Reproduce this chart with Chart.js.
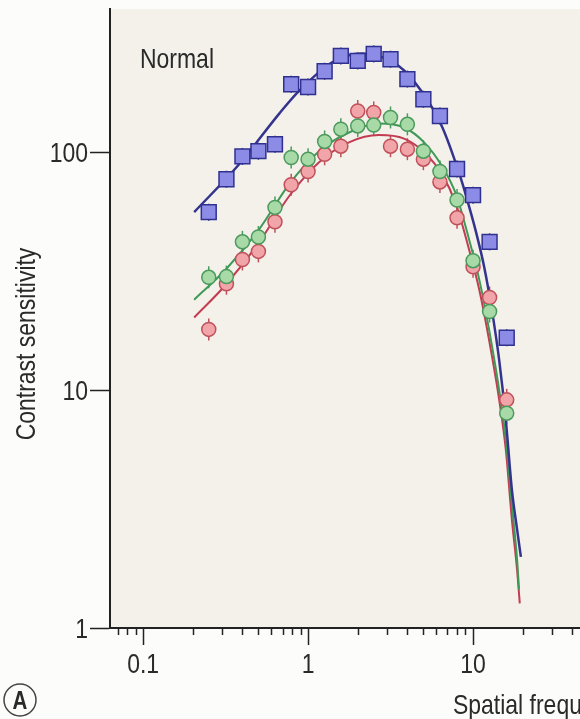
<!DOCTYPE html>
<html>
<head>
<meta charset="utf-8">
<script src="https://cdn.jsdelivr.net/npm/chart.js@4.4.1/dist/chart.umd.min.js"></script>
<style>
  html, body { margin: 0; padding: 0; background: #fcfcfa; overflow: hidden; }
  #wrap { width: 580px; height: 719px; }
</style>
</head>
<body>
<div id="wrap"><canvas id="csf" width="580" height="719"></canvas></div>
<script>
// spatial frequencies of the measured points (c/deg)
const freqs = [0.25, 0.32, 0.4, 0.5, 0.63, 0.79, 1, 1.26, 1.58, 2, 2.5, 3.16, 4, 5, 6.3, 8, 10, 12.6, 16];

// measured contrast sensitivity
const blueSens  = [56, 77, 96, 101, 108, 193, 188, 219, 254, 242, 259, 246, 203, 167, 142, 85, 66, 42, 16.6];
const greenSens = [29.8, 30, 42, 44, 58.6, 95, 93.5, 111, 125, 129, 130, 140, 131, 101, 83, 63, 35, 21.4, 8.0];
const redSens   = [18, 28, 35.4, 38.3, 51, 73, 83, 98, 106, 149, 147, 106, 103, 93.5, 75, 53, 33, 24.5, 9.1];

// fitted curves
const blueFitX  = [0.204, 0.382, 0.667, 0.882, 1.4, 2.12, 3.56, 4.91, 6.49, 8.22, 9.2, 10.4, 11.7, 13.0, 14.4, 15.8, 17.2, 18.5, 19.5];
const blueFitY  = [56, 89, 145, 181, 239, 260, 230, 179, 128, 82, 63.4, 46.5, 32.8, 21.8, 13.4, 7.5, 3.81, 2.59, 1.99];
const greenFitX = [0.204, 0.318, 0.505, 0.767, 1.166, 1.77, 2.69, 3.82, 5.05, 6.49, 7.89, 9.46, 10.9, 12.5, 14.4, 15.8, 17.2, 18.5, 19.0];
const greenFitY = [24, 32.2, 47.4, 73.3, 101, 121, 132, 127, 110, 87.3, 66.5, 43, 29.2, 18, 10, 6.19, 3.3, 1.93, 1.45];
const redFitX   = [0.204, 0.318, 0.505, 0.767, 1.166, 1.77, 2.69, 3.82, 5.05, 6.49, 7.89, 9.46, 10.9, 12.5, 14.4, 15.8, 17.2, 18.5, 19.2];
const redFitY   = [20.2, 27.8, 41.8, 65.3, 90.8, 110, 118, 114, 100, 80.7, 60.4, 39, 26.5, 16.3, 9.12, 5.62, 2.85, 1.75, 1.27];

const xTicks = [0.1, 1, 10];
const xTickLabels = ['0.1', '1', '10'];
const xMinorTicks = [0.07, 0.08, 0.09, 0.2, 0.3, 0.4, 0.5, 0.6, 0.7, 0.8, 0.9, 2, 3, 4, 5, 6, 7, 8, 9, 20, 30, 40];
const yTicks = [1, 10, 100];
const yTickLabels = ['1', '10', '100'];

const xTitle = 'Spatial frequency (cycles/degree)';
const yTitle = 'Contrast sensitivity';
const panelNote = 'Normal';
const panelLetter = 'A';

const family = '"Liberation Sans", Arial, sans-serif';
const fsize = 28;
const squeeze = 0.82;   // the figure uses a condensed face
const ink = '#222';
const textInk = '#2a2a2a';

const pts = (xs, ys) => xs.map((x, i) => ({ x, y: ys[i] }));

function markers(label, ys, style, radius, fill, edge, order) {
  return {
    label, data: pts(freqs, ys), showLine: false, order,
    pointStyle: style, pointRadius: radius, pointBackgroundColor: fill,
    pointBorderColor: edge, pointBorderWidth: 1.5, borderColor: edge, whisker: true
  };
}
function fit(label, xs, ys, color, width) {
  return {
    label, data: pts(xs, ys), showLine: true, order: 5,
    borderColor: color, borderWidth: width, pointRadius: 0,
    cubicInterpolationMode: 'monotone', fill: false
  };
}

// condensed text: squeeze horizontally around the anchor
function squeezedText(ctx, str, x, y, align, font) {
  ctx.save();
  ctx.font = font;
  ctx.textAlign = align;
  ctx.translate(x, y);
  ctx.scale(squeeze, 1);
  ctx.fillText(str, 0, 0);
  ctx.restore();
}

const plotBg = {
  id: 'plotBg',
  beforeDraw(chart) {
    const { ctx, chartArea: a } = chart;
    ctx.save();
    ctx.fillStyle = '#f3f1ea';
    ctx.fillRect(a.left, a.top, a.right - a.left, a.bottom - a.top);
    ctx.restore();
  }
};

// little error whiskers through each marker
const whiskers = {
  id: 'whiskers',
  beforeDatasetsDraw(chart) {
    const ctx = chart.ctx;
    chart.data.datasets.forEach((ds, i) => {
      if (!ds.whisker) return;
      const len = ds.pointRadius + (ds.pointStyle === 'rect' ? -2 : 4);
      ctx.save();
      ctx.strokeStyle = ds.borderColor;
      ctx.lineWidth = 1.5;
      chart.getDatasetMeta(i).data.forEach(p => {
        ctx.beginPath();
        ctx.moveTo(p.x, p.y - len);
        ctx.lineTo(p.x, p.y + len);
        ctx.stroke();
      });
      ctx.restore();
    });
  }
};

const decor = {
  id: 'decor',
  afterDraw(chart) {
    const { ctx, scales } = chart;
    const font = fsize + 'px ' + family;
    ctx.save();
    // minor ticks on the x axis
    ctx.strokeStyle = ink;
    ctx.lineWidth = 1.5;
    const y0 = scales.x.top;
    xMinorTicks.forEach(v => {
      const x = Math.round(scales.x.getPixelForValue(v)) + 0.5;
      if (x > chart.chartArea.right) return;
      ctx.beginPath();
      ctx.moveTo(x, y0);
      ctx.lineTo(x, y0 + 7);
      ctx.stroke();
    });

    ctx.fillStyle = textInk;
    ctx.textBaseline = 'alphabetic';
    // tick labels
    xTicks.forEach((v, i) => {
      squeezedText(ctx, xTickLabels[i], scales.x.getPixelForValue(v), 673, 'center', font);
    });
    yTicks.forEach((v, i) => {
      squeezedText(ctx, yTickLabels[i], 88, scales.y.getPixelForValue(v) + 10, 'right', font);
    });

    squeezedText(ctx, panelNote, 140, 68, 'left', font);
    squeezedText(ctx, xTitle, 453, 714, 'left', font);

    ctx.save();
    ctx.translate(35, 344);
    ctx.rotate(-Math.PI / 2);
    squeezedText(ctx, yTitle, 0, 0, 'center', font);
    ctx.restore();

    ctx.beginPath();
    ctx.arc(20, 700, 16, 0, Math.PI * 2);
    ctx.lineWidth = 1.5;
    ctx.strokeStyle = '#444';
    ctx.stroke();
    squeezedText(ctx, panelLetter, 20, 709, 'center', 'bold 25px ' + family);
    ctx.restore();
  }
};

function noPad(s) {
  s.paddingTop = 0; s.paddingBottom = 0; s.paddingLeft = 0; s.paddingRight = 0;
}

new Chart(document.getElementById('csf'), {
  type: 'scatter',
  data: {
    datasets: [
      markers('Blue', blueSens, 'rect', 10.5, '#8c8ce6', '#303090', 0),
      markers('Green', greenSens, 'circle', 7, '#a8daa8', '#4c9a5c', 0),
      markers('Red', redSens, 'circle', 7, '#f1a5a9', '#c0505a', 1),
      fit('Blue fit', blueFitX, blueFitY, '#34348e', 2.5),
      fit('Green fit', greenFitX, greenFitY, '#3e9a56', 2),
      fit('Red fit', redFitX, redFitY, '#c23c52', 2)
    ]
  },
  options: {
    responsive: false,
    animation: false,
    devicePixelRatio: 1,
    layout: { autoPadding: false, padding: { top: 9, left: 0, right: 0, bottom: 0 } },
    plugins: { legend: { display: false }, tooltip: { enabled: false } },
    scales: {
      x: {
        type: 'logarithmic', min: 0.063, max: 44.5,
        afterBuildTicks: s => { s.ticks = xTicks.map(v => ({ value: v })); },
        afterFit: s => { s.height = 91; noPad(s); },
        grid: { drawOnChartArea: false, tickLength: 17, tickColor: ink, tickWidth: 1.5 },
        border: { color: ink, width: 2 },
        ticks: { display: false }
      },
      y: {
        type: 'logarithmic', min: 1, max: 400,
        afterBuildTicks: s => { s.ticks = yTicks.map(v => ({ value: v })); },
        afterFit: s => { s.width = 110; noPad(s); },
        grid: { drawOnChartArea: false, tickLength: 20, tickColor: ink, tickWidth: 1.5 },
        border: { color: ink, width: 2 },
        ticks: { display: false }
      }
    }
  },
  plugins: [plotBg, whiskers, decor]
});
</script>
</body>
</html>
